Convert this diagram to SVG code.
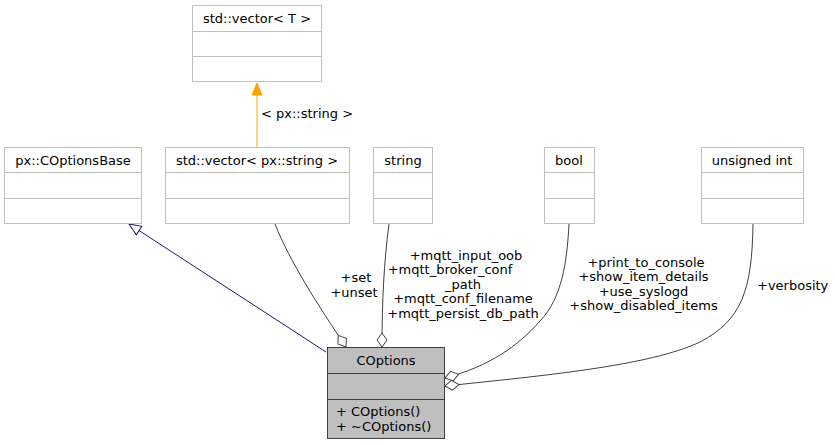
<svg xmlns="http://www.w3.org/2000/svg" width="835" height="445" viewBox="0 0 835 445">
<style>
text{font-family:"DejaVu Sans","Liberation Sans",sans-serif;font-size:13px;fill:#000}
.c{text-anchor:middle}
.box{fill:#fff;stroke:#bfbfbf;stroke-width:1}
.main{fill:#bfbfbf;stroke:#404040;stroke-width:1}
.e{fill:none;stroke:#404040;stroke-width:1}
</style>
<defs>
<marker id="dia" markerUnits="userSpaceOnUse" markerWidth="18" markerHeight="12" viewBox="-16 -6 18 12" refX="0" refY="0" orient="auto" overflow="visible">
<path d="M0,0 L-7,-5 L-14,0 L-7,5 Z" fill="#fff" stroke="#404040" stroke-width="1"/>
</marker>
<marker id="tri" markerUnits="userSpaceOnUse" markerWidth="14" markerHeight="12" viewBox="-13 -6 14 12" refX="0" refY="0" orient="auto" overflow="visible">
<path d="M0,0 L-12,-5 L-12,5 Z" fill="#fff" stroke="#191970" stroke-width="1"/>
</marker>
<marker id="otri" markerUnits="userSpaceOnUse" markerWidth="14" markerHeight="12" viewBox="-13 -6 14 12" refX="0" refY="0" orient="auto" overflow="visible">
<path d="M0,0 L-12,-5 L-12,5 Z" fill="#ffa500" stroke="#ffa500" stroke-width="1"/>
</marker>
</defs>
<rect width="835" height="445" fill="#fff"/>
<g id="edges">
<path d="M257,147 L257,83" fill="none" stroke="#ffa500" stroke-width="1" marker-end="url(#otri)"/>
<text x="261" y="118">&lt; px::string &gt;</text>
<path d="M326,352 L129,224" fill="none" stroke="#191970" stroke-width="1" marker-end="url(#tri)"/>
<path class="e" d="M275,224 C290,262 318,305 346,347" marker-end="url(#dia)"/>
<text class="c" x="356" y="282">+set</text>
<text class="c" x="354" y="296.5">+unset</text>
<path class="e" d="M389,224 C384,262 382,300 382,347" marker-end="url(#dia)"/>
<text class="c" x="466" y="259.5">+mqtt_input_oob</text>
<text class="c" x="450" y="274">+mqtt_broker_conf</text>
<text class="c" x="463" y="288.5">_path</text>
<text class="c" x="463" y="303">+mqtt_conf_filename</text>
<text class="c" x="463" y="317.5">+mqtt_persist_db_path</text>
<path class="e" d="M569,224 C567,262 562,298 540,321 C518,346 490,366 445,378" marker-end="url(#dia)"/>
<text class="c" x="646" y="266.5">+print_to_console</text>
<text class="c" x="643.5" y="281">+show_item_details</text>
<text class="c" x="643.5" y="295.5">+use_syslogd</text>
<text class="c" x="643.5" y="310">+show_disabled_items</text>
<path class="e" d="M753,224 C752,290 742,320 700,342 C650,366 540,376 445,386" marker-end="url(#dia)"/>
<text x="757" y="289.5">+verbosity</text>
</g>
<g id="node-vectorT">
<rect class="box" x="192.5" y="5.5" width="129" height="76"/>
<path class="box" d="M192.5,31.5 H321.5 M192.5,56.5 H321.5"/>
<text class="c" x="257" y="22.5">std::vector&lt; T &gt;</text>
</g>
<g id="node-COptionsBase">
<rect class="box" x="4.5" y="147.5" width="137" height="76"/>
<path class="box" d="M4.5,172.5 H141.5 M4.5,198.5 H141.5"/>
<text class="c" x="73" y="164.5">px::COptionsBase</text>
</g>
<g id="node-vectorString">
<rect class="box" x="165.5" y="147.5" width="184" height="76"/>
<path class="box" d="M165.5,172.5 H349.5 M165.5,198.5 H349.5"/>
<text class="c" x="257" y="164.5">std::vector&lt; px::string &gt;</text>
</g>
<g id="node-string">
<rect class="box" x="373.5" y="147.5" width="59" height="76"/>
<path class="box" d="M373.5,172.5 H432.5 M373.5,198.5 H432.5"/>
<text class="c" x="403" y="164.5">string</text>
</g>
<g id="node-bool">
<rect class="box" x="544.5" y="147.5" width="50" height="76"/>
<path class="box" d="M544.5,172.5 H594.5 M544.5,198.5 H594.5"/>
<text class="c" x="569" y="164.5">bool</text>
</g>
<g id="node-uint">
<rect class="box" x="701.5" y="147.5" width="102" height="76"/>
<path class="box" d="M701.5,172.5 H803.5 M701.5,198.5 H803.5"/>
<text class="c" x="752" y="164.5">unsigned int</text>
</g>
<g id="node-COptions">
<rect class="main" x="327.5" y="347.5" width="117" height="91"/>
<path class="main" d="M327.5,373.5 H444.5 M327.5,399.5 H444.5"/>
<text class="c" x="386" y="364.5">COptions</text>
<text x="336" y="415.5">+ COptions()</text>
<text x="336" y="430.5">+ ~COptions()</text>
</g>
</svg>
